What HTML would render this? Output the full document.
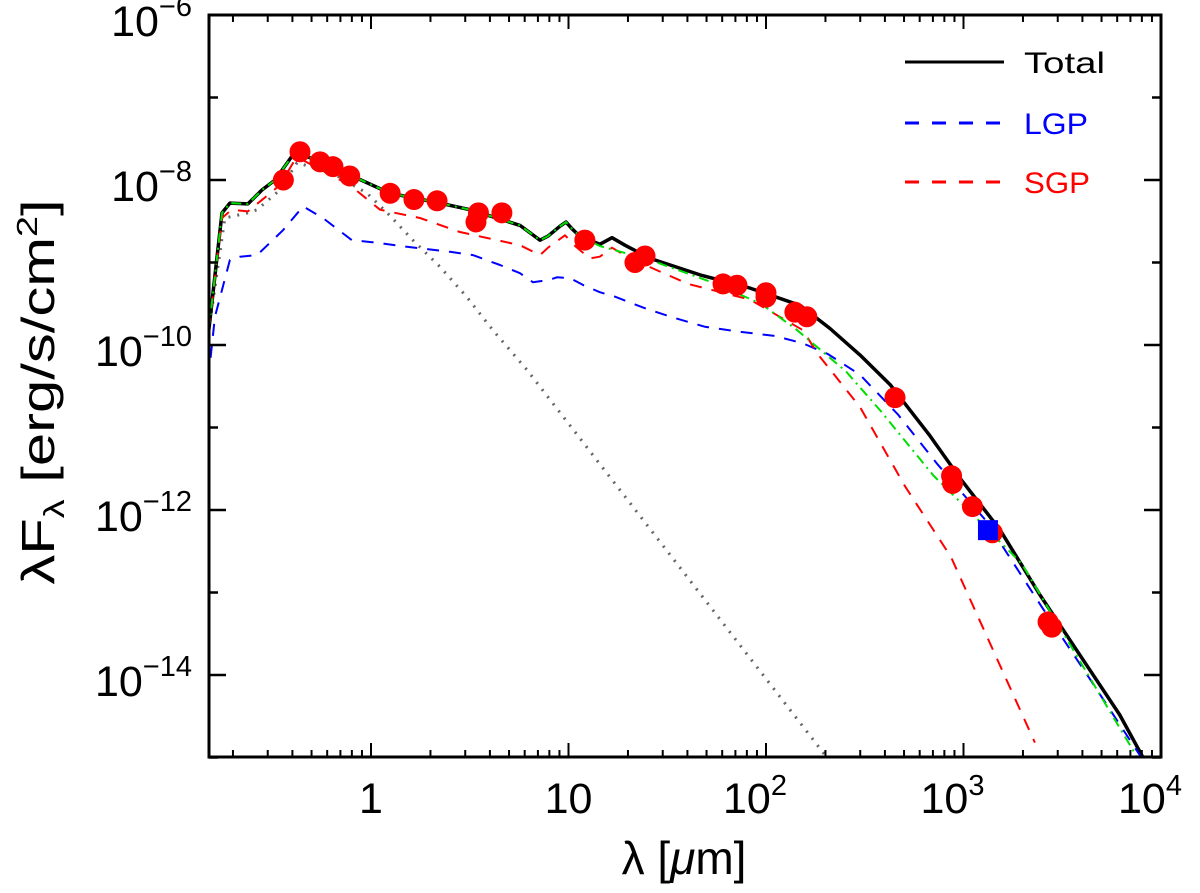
<!DOCTYPE html>
<html><head><meta charset="utf-8"><style>
body{margin:0;background:#fff;}
svg{display:block;font-family:"Liberation Sans","DejaVu Sans",sans-serif;}
</style></head><body>
<svg id="chart" width="1200" height="893" viewBox="0 0 1200 893" xmlns="http://www.w3.org/2000/svg">
<g id="curves"></g>
<g id="points"></g>
<g id="axes"></g>
<g id="legend">
  <line x1="905" y1="62" x2="1004" y2="62" stroke="#000" stroke-width="3"/>
  <text x="1024" y="73" font-size="30" fill="#000" textLength="81" lengthAdjust="spacingAndGlyphs">Total</text>
  <line x1="905" y1="123" x2="1004" y2="123" stroke="#00f" stroke-width="3" stroke-dasharray="14,13"/>
  <text x="1024" y="134" font-size="30" fill="#00f" textLength="64" lengthAdjust="spacingAndGlyphs">LGP</text>
  <line x1="905" y1="182" x2="1004" y2="182" stroke="#f00" stroke-width="3" stroke-dasharray="14,13"/>
  <text x="1024" y="193" font-size="30" fill="#f00" textLength="66" lengthAdjust="spacingAndGlyphs">SGP</text>
</g>
<text x="684" y="874" font-size="46" text-anchor="middle">λ [<tspan font-style="italic">μ</tspan>m]</text>
<text transform="translate(54,392) rotate(-90) scale(1.3,1)" font-size="46" text-anchor="middle">λF<tspan font-size="29" dy="10">λ</tspan><tspan dy="-10"> [erg/s/cm</tspan><tspan font-size="29" dy="-17">2</tspan><tspan dy="17">]</tspan></text>
</svg>
<script>
// ---- data ----
const totalLam = [0.151,0.176,0.193,0.238,0.281,0.327,0.412,0.491,0.80,1.25,2.23,3.17,5.68,7.17,7.87,9.06,9.71,10.4,11.4,14.4,16.6,19.3,25.9,46.4,83,149,211,299,425,676,957,1530,2440,3890,6170,8110];
const totalLogF = [-9.82,-8.40,-8.28,-8.29,-8.12,-8.0,-7.66,-7.73,-7.95,-8.16,-8.28,-8.36,-8.55,-8.73,-8.68,-8.56,-8.51,-8.59,-8.68,-8.78,-8.70,-8.79,-8.95,-9.15,-9.31,-9.52,-9.80,-10.12,-10.48,-11.10,-11.61,-12.24,-13.03,-13.76,-14.48,-15.0];
const greenLam = [0.151,0.176,0.193,0.238,0.281,0.327,0.412,0.491,0.80,1.25,2.23,3.17,5.68,7.17,7.87,9.06,9.71,10.4,11.4,14.4,25.9,53.3,94.4,142,254,381,703,1110,1970,3600,7550];
const greenLogF = [-9.82,-8.40,-8.28,-8.29,-8.12,-8.0,-7.66,-7.73,-7.95,-8.16,-8.28,-8.36,-8.55,-8.73,-8.68,-8.56,-8.51,-8.59,-8.68,-8.80,-8.97,-9.24,-9.50,-9.81,-10.32,-10.80,-11.58,-12.05,-12.65,-13.70,-14.99];
const sgpLam = [0.151,0.176,0.197,0.238,0.281,0.346,0.42,0.78,1.11,1.77,2.82,5.68,7.17,7.87,9.6,10.8,12.8,14.4,16.6,20.5,40.3,83,154,183,299,505,864,1462,2300];
const sgpLogF = [-9.82,-8.46,-8.36,-8.38,-8.24,-8.06,-7.72,-8.06,-8.36,-8.46,-8.63,-8.79,-8.91,-8.82,-8.67,-8.80,-8.95,-8.93,-8.82,-8.95,-9.26,-9.45,-9.82,-10.11,-10.75,-11.71,-12.57,-13.78,-14.82];
const lgpLam = [0.150,0.162,0.193,0.217,0.265,0.358,0.453,0.571,0.80,1.07,1.52,2.51,3.28,4.50,5.68,6.61,8.05,8.74,10.2,11.8,14.4,17.0,24.7,34.2,49.1,73.7,111,154,206,299,465,735,1300,2500,4450,7900];
const lgpLogF = [-10.42,-9.66,-8.97,-8.93,-8.91,-8.61,-8.32,-8.46,-8.73,-8.76,-8.81,-8.87,-8.91,-9.03,-9.13,-9.24,-9.21,-9.18,-9.19,-9.27,-9.36,-9.41,-9.56,-9.67,-9.78,-9.84,-9.89,-9.98,-10.11,-10.36,-10.84,-11.44,-12.13,-13.18,-14.08,-14.99];
const starLam = [0.151,0.182,0.236,0.265,0.346,0.422,0.642,0.954,1.21,1.63,2.23,3.06,4.14,6.16,202];
const starLogF = [-9.82,-8.46,-8.40,-8.36,-8.12,-7.79,-7.92,-8.16,-8.40,-8.73,-9.05,-9.42,-9.82,-10.30,-14.99];
const obsLam = [0.36,0.437,0.552,0.642,0.78,1.25,1.65,2.16,3.4,3.5,4.6,12.1,21.7,24.4,60.6,71.3,100,100,140,161,450,870,880,1110,1400,2680,2800];
const obsFlux = [1e-8,2.2e-8,1.66e-8,1.45e-8,1.12e-8,6.9e-9,5.8e-9,5.6e-9,3.1e-9,4e-9,4e-9,1.87e-9,1.0e-9,1.2e-9,5.5e-10,5.3e-10,4.3e-10,3.8e-10,2.5e-10,2.2e-10,2.3e-11,2.6e-12,2.1e-12,1.1e-12,5.3e-13,4.4e-14,3.8e-14];
const squareLam = [1330];
const squareFlux = [5.7e-13];
const xTickExps = [0,1,2,3,4];
const xTickLabels = ["1","10","10","10","10"];
const xTickSups = ["","","2","3","4"];
const yTickExps = [-6,-8,-10,-12,-14];
const yTickSups = ["−6","−8","−10","−12","−14"];

// ---- axes ----
const L=209,R=1161,T=15,B=757;
const X0=371, DEC=197.5, YDEC=82.5;
function xs(l){return X0+DEC*Math.log10(l);}
function ysLog(lf){return T+YDEC*(-6-lf);}
function ys(f){return ysLog(Math.log10(f));}
const NS="http://www.w3.org/2000/svg";
function mk(tag,attrs,parent){const e=document.createElementNS(NS,tag);for(const k in attrs)e.setAttribute(k,attrs[k]);parent.appendChild(e);return e;}

const cg=document.getElementById('curves');
cg.setAttribute('clip-path','url(#clip)');
const defs=mk('defs',{},document.getElementById('chart'));
const cp=mk('clipPath',{id:'clip'},defs);
mk('rect',{x:L,y:T,width:R-L,height:B-T},cp);

function curve(lam,lf,stroke,w,dash,name){
  const d=lam.map((l,i)=>(i?'L':'M')+xs(l).toFixed(1)+','+ysLog(lf[i]).toFixed(1)).join(' ');
  const p=mk('path',{d:d,fill:'none',stroke:stroke,'stroke-width':w,'stroke-linejoin':'round'},cg);
  if(dash)p.setAttribute('stroke-dasharray',dash);
  
  
}
curve(starLam,starLogF,'#666',3,'2,7','stellar-dotted-curve');
curve(totalLam,totalLogF,'#000',3.5,null,'total-curve');
curve(lgpLam,lgpLogF,'#00f',2,'12,10','lgp-curve');
curve(sgpLam,sgpLogF,'#f00',2,'12,10','sgp-curve');
curve(greenLam,greenLogF,'#0d0',2,'10,5,2,5','fit-dashdot-curve');

const pg=document.getElementById('points');
obsLam.forEach((l,i)=>{
  const c=mk('circle',{cx:xs(l),cy:ys(obsFlux[i]),r:10.5,fill:'#f00'},pg);
  
  
});
squareLam.forEach((l,i)=>{
  const s=mk('rect',{x:xs(l)-10,y:ys(squareFlux[i])-10,width:20,height:20,fill:'#00f'},pg);
  
  
});

const ag=document.getElementById('axes');
const frame=mk('rect',{x:L,y:T,width:R-L,height:B-T,fill:'none',stroke:'#000','stroke-width':3},ag);


for(let e=-1;e<=3;e++){for(let m=1;m<=9;m++){
  const x=xs(m*Math.pow(10,e)); if(x<L+1||x>R-1)continue;
  const len=m===1?14:7;
  mk('line',{x1:x,y1:B,x2:x,y2:B-len,stroke:'#000','stroke-width':2},ag);
  mk('line',{x1:x,y1:T,x2:x,y2:T+len,stroke:'#000','stroke-width':2},ag);
}}
xTickExps.forEach((e,i)=>{
  const t=mk('text',{x:xs(Math.pow(10,e))+(xTickSups[i]?-11:0),y:813,'font-size':43,'text-anchor':'middle'},ag);
  t.textContent=xTickLabels[i];
  if(xTickSups[i]){const s=mk('tspan',{'font-size':29,dy:-18},t);s.textContent=xTickSups[i];}
  
  
});
for(let e=-15;e<=-6;e++){
  const y=ysLog(e); const len=(e%2===0)?17:9;
  mk('line',{x1:L,y1:y,x2:L+len,y2:y,stroke:'#000','stroke-width':2.5},ag);
  mk('line',{x1:R,y1:y,x2:R-len,y2:y,stroke:'#000','stroke-width':2.5},ag);
}
yTickExps.forEach((e,i)=>{
  const t=mk('text',{x:192,y:ysLog(e)+21,'font-size':43,'text-anchor':'end'},ag);
  t.textContent='10';
  const s=mk('tspan',{'font-size':29,dy:-20},t);s.textContent=yTickSups[i];
  
  
});
</script>
</body></html>
